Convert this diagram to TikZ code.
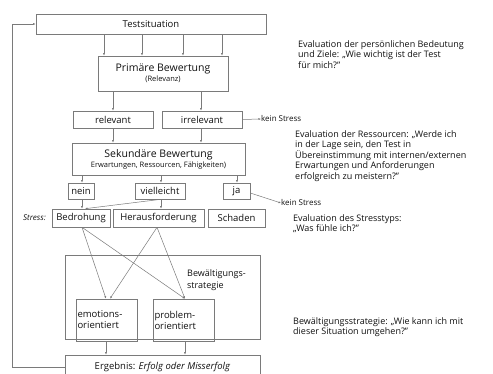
\documentclass[tikz,border=0pt]{standalone}
\usepackage{fontspec}
\setmainfont{Open Sans}
\usetikzlibrary{arrows.meta}
\definecolor{ln}{HTML}{7A7A7A}
\definecolor{tx}{HTML}{111111}
\begin{document}
\begin{tikzpicture}[x=1pt,y=-1pt,
 box/.style={draw=ln, line width=0.6pt, rectangle, inner sep=0pt, text=tx, font=\fontsize{9.5}{11}\selectfont},
 arr/.style={draw=ln, line width=0.5pt, -{Latex[length=2.5pt,width=2pt]}},
 lab/.style={inner sep=0pt, text=tx, font=\fontsize{9}{10.5}\selectfont, align=left, anchor=north west},
 small/.style={inner sep=0pt, text=tx, font=\fontsize{8}{9.5}\selectfont},
]
\clip (0,0) rectangle (493,374);
\fill[white] (0,0) rectangle (493,374);

% boxes
\node[box, minimum width=230pt, minimum height=20pt] (ts) at (151,24) {Testsituation};
\node[box, minimum width=130pt, minimum height=35pt, align=center] (pb) at (163,73.5)
  {{\fontsize{10.5}{12}\selectfont Primäre Bewertung}\\[-1pt]{\fontsize{7.5}{9}\selectfont (Relevanz)}};
\node[box, minimum width=80pt, minimum height=17pt] (rel) at (113,119.5) {relevant};
\node[box, minimum width=80pt, minimum height=17pt] (irr) at (202,119.5) {irrelevant};
\node[box, minimum width=173pt, minimum height=32pt, align=center] (sb) at (158.5,159)
  {{\fontsize{10.5}{12}\selectfont Sekundäre Bewertung}\\[-1pt]{\fontsize{7.5}{9}\selectfont Erwartungen, Ressourcen, Fähigkeiten)}};
\node[box, minimum width=26pt, minimum height=16pt] (nein) at (81,191) {nein};
\node[box, minimum width=50pt, minimum height=16pt] (viel) at (160,191) {vielleicht};
\node[box, minimum width=27pt, minimum height=16pt] (ja) at (236.5,191) {ja};
\node[box, minimum width=58pt, minimum height=18pt] (bed) at (81,218) {Bedrohung};
\node[box, minimum width=91pt, minimum height=18pt] (her) at (158.5,218) {Herausforderung};
\node[box, minimum width=57pt, minimum height=18pt] (sch) at (236.5,218) {Schaden};
\node[box, minimum width=195pt, minimum height=84pt] (bw) at (162.5,297) {};
\node[lab, font=\fontsize{9}{12.5}\selectfont] (bwl) at (187,269) {Bewältigungs-\\strategie};
\node[box, minimum width=61pt, minimum height=42pt, text width=58pt, align=left] (emo) at (106.5,320) {emotions-\\orientiert};
\node[box, minimum width=61pt, minimum height=42pt, text width=58pt, align=left] (prob) at (183.5,320) {problem-\\orientiert};
\node[box, minimum width=195pt, minimum height=24pt] (erg) at (162.5,367) {Ergebnis: \textit{Erfolg oder Misserfolg}};

% side labels
\node[small, font=\fontsize{8}{9.5}\selectfont\itshape, anchor=east] (stress) at (46,218) {Stress:};
\node[small, anchor=west] (ks1) at (261,119) {kein Stress};
\node[small, anchor=west] (ks2) at (281,203) {kein Stress};
\node[lab] (t1) at (298,40) {Evaluation der persönlichen Bedeutung\\und Ziele: „Wie wichtig ist der Test\\für mich?"};
\node[lab] (t2) at (295,130) {Evaluation der Ressourcen: „Werde ich\\in der Lage sein, den Test in\\Übereinstimmung mit internen/externen\\Erwartungen und Anforderungen\\erfolgreich zu meistern?"};
\node[lab] (t3) at (293,214) {Evaluation des Stresstyps:\\„Was fühle ich?"};
\node[lab] (t4) at (293,317) {Bewältigungsstrategie: „Wie kann ich mit\\dieser Situation umgehen?"};

% connectors
\foreach \x in {104,142,183,222} \draw[arr] (\x,0 |- ts.south) -- (\x,0 |- pb.north);
\draw[arr] (113,0 |- pb.south) -- (113,0 |- rel.north);
\draw[arr] (201,0 |- pb.south) -- (201,0 |- irr.north);
\draw[arr] (irr.east) -- (ks1.west);
\draw[arr] (113,0 |- rel.south) -- (113,0 |- sb.north);
\draw[arr] (201,0 |- irr.south) -- (201,0 |- sb.north);
\draw[arr] (82,0 |- sb.south) -- (82,0 |- nein.north);
\draw[arr] (161,0 |- sb.south) -- (161,0 |- viel.north);
\draw[arr] (237,0 |- sb.south) -- (237,0 |- ja.north);
\draw[arr] ([yshift=-2pt]ja.east) -- (ks2.west);
\draw[arr] (82,0 |- nein.south) -- (82,0 |- bed.north);
\draw[arr] (161,0 |- viel.south) -- (161,0 |- her.north);
\draw[arr] (161,0 |- viel.south) -- (85,0 |- bed.north);
\draw[arr] (82,0 |- bed.south) -- (106,0 |- emo.north);
\draw[arr] (82,0 |- bed.south) -- (185,0 |- prob.north);
\draw[arr] (157,0 |- her.south) -- (110,0 |- emo.north);
\draw[arr] (157,0 |- her.south) -- (185,0 |- prob.north);
\draw[arr] (106,0 |- emo.south) -- (106,0 |- erg.north);
\draw[arr] (185,0 |- prob.south) -- (185,0 |- erg.north);
\draw[arr] (erg.west) -- (12,0 |- erg.west) -- (12,0 |- ts.west) -- (ts.west);
\end{tikzpicture}
\end{document}
